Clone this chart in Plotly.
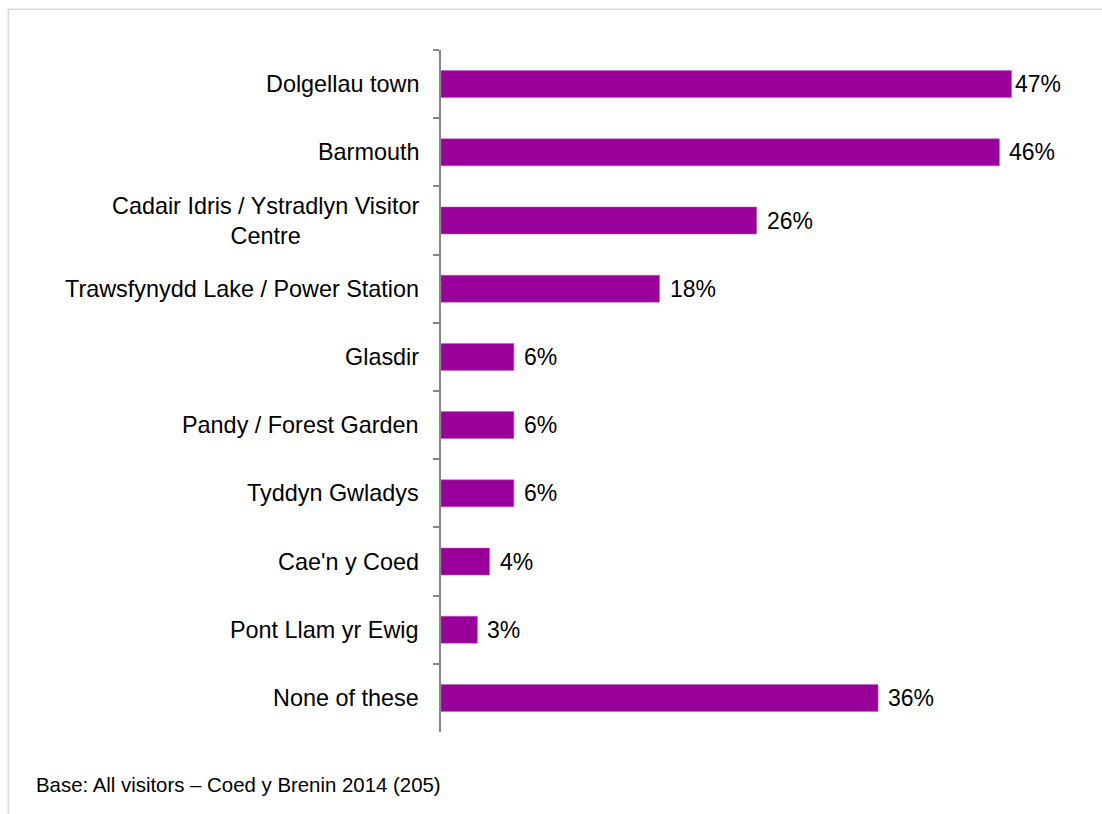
import plotly.graph_objects as go

categories = ["Dolgellau town", "Barmouth", "Cadair Idris / Ystradlyn Visitor<br>Centre",
              "Trawsfynydd Lake / Power Station", "Glasdir", "Pandy / Forest Garden",
              "Tyddyn Gwladys", "Cae'n y Coed", "Pont Llam yr Ewig", "None of these"]
values = [47, 46, 26, 18, 6, 6, 6, 4, 3, 36]
value_labels = [f"{v}%" for v in values]
base_note = "Base: All visitors \u2013 Coed y Brenin 2014 (205)"

W, H = 1102, 814
L, R, T, B = 441, 1048.5, 50.3, 732.3
FONT = "Liberation Sans, Arial, sans-serif"

fig = go.Figure(go.Bar(
    x=values, y=categories, orientation="h",
    marker=dict(color="#990099", line=dict(color="#c060c0", width=0.5)),
    width=0.396, hoverinfo="skip",
))

annotations = []
for c in categories:
    annotations.append(dict(x=0, y=c, xref="x", yref="y", text=c, showarrow=False,
                            xanchor="right", yanchor="middle", align="center", xshift=-20,
                            font=dict(family=FONT, size=23.4, color="#000000")))
for c, v, t in zip(categories, values, value_labels):
    annotations.append(dict(x=v, y=c, xref="x", yref="y", text=t, showarrow=False,
                            xanchor="left", yanchor="middle", xshift=(1 if v >= 47 else 8),
                            font=dict(family=FONT, size=23, color="#000000")))
pw, ph = R - L, B - T
annotations.append(dict(x=(34 - L) / pw, y=(B - 785) / ph, xref="paper", yref="paper",
                        text=base_note, showarrow=False, xanchor="left", yanchor="middle",
                        font=dict(family=FONT, size=20.4, color="#000000")))

fig.update_layout(
    width=W, height=H,
    margin=dict(l=L, r=W - R, t=T, b=H - B, pad=0),
    paper_bgcolor="white", plot_bgcolor="white",
    showlegend=False,
    xaxis=dict(range=[0, 50], visible=False, fixedrange=True),
    yaxis=dict(autorange="reversed", showticklabels=False, showline=True,
               linecolor="#868686", linewidth=2, ticks="outside", tickson="boundaries",
               ticklen=6, tickcolor="#868686", tickwidth=1.5, showgrid=False,
               zeroline=False, fixedrange=True),
    annotations=annotations,
    shapes=[dict(type="rect", xref="paper", yref="paper",
                 x0=(8 - L) / pw, x1=1.3, y0=-0.3, y1=(B - 9.5) / ph,
                 line=dict(color="#d9d9d9", width=1.5), fillcolor="rgba(0,0,0,0)", layer="below")],
)

fig.write_html("out.html", config={"displayModeBar": False})

with open("out.html", encoding="utf-8") as f:
    html = f.read()
html = html.replace("<body>", '<body style="margin:0;overflow:hidden">', 1)
with open("out.html", "w", encoding="utf-8") as f:
    f.write(html)
